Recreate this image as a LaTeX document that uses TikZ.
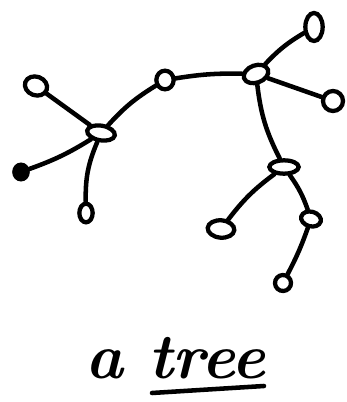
\documentclass[tikz,border=0pt]{standalone}
\usetikzlibrary{shapes.geometric}
\begin{document}
\begin{tikzpicture}[x=0.75pt,y=-0.75pt,
  vtx/.style={draw,ellipse,line width=3.2pt,inner sep=0pt},
  edge/.style={line width=3.4pt,line cap=round},
  hand/.style={font=\fontsize{48}{54}\selectfont\bfseries\itshape,inner sep=0pt}]
\useasboundingbox (0,0) rectangle (346,402);
\node[vtx,minimum width=13pt,minimum height=21pt] (A) at (314,27) {};
\node[vtx,minimum width=19pt,minimum height=13pt,rotate=20] (R) at (256,74) {};
\node[vtx,minimum width=15pt,minimum height=15pt] (Rr) at (333,101) {};
\node[vtx,minimum width=13pt,minimum height=14pt] (M) at (165,80) {};
\node[vtx,minimum width=21pt,minimum height=11pt,rotate=-10] (L) at (101,133) {};
\node[vtx,minimum width=17pt,minimum height=14pt,rotate=-20] (UL) at (36,86) {};
\node[vtx,fill,minimum width=10pt,minimum height=11pt] (LL) at (21,172) {};
\node[vtx,minimum width=10pt,minimum height=14pt] (LB) at (86,213) {};
\node[vtx,minimum width=22pt,minimum height=10pt] (C) at (284,167) {};
\node[vtx,minimum width=20pt,minimum height=13pt,rotate=-5] (CL) at (221,229) {};
\node[vtx,minimum width=15pt,minimum height=11pt,rotate=-15] (CR) at (311,219) {};
\node[vtx,minimum width=12pt,minimum height=12pt,rotate=-20] (CB) at (283,283) {};
\draw[edge] (R) to[bend left=8] (A);
\draw[edge] (R) -- (Rr);
\draw[edge] (M) to[bend left=5] (R);
\draw[edge] (L) to[bend left=8] (M);
\draw[edge] (L) -- (UL);
\draw[edge] (L) to[bend left=6] (LL);
\draw[edge] (L) to[bend right=12] (LB);
\draw[edge] (R) to[bend right=10] (C);
\draw[edge] (C) to[bend right=8] (CL);
\draw[edge] (C) to[bend left=8] (CR);
\draw[edge] (CR) to[bend left=4] (CB);
\node[hand,anchor=base] (Ta) at (104,378) {a};
\node[hand,anchor=base west] (Tt) at (148,378) {tree};
\coordinate (U1) at (152,393);
\coordinate (U2) at (264,386);
\draw[edge] (U1) -- (U2);
\end{tikzpicture}
\end{document}
